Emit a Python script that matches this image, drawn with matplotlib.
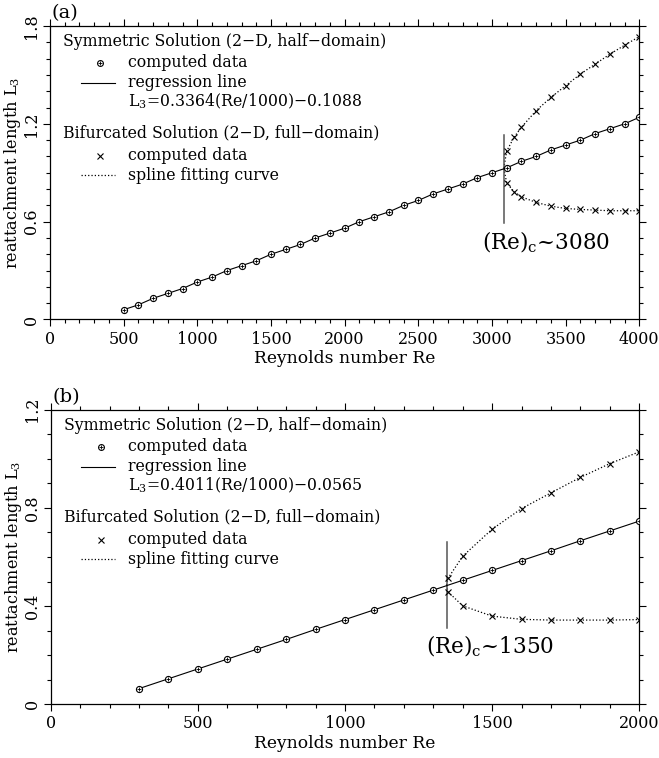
"""
    Reattachment length L3 against Reynolds number, two panels:
    symmetric solution (half-domain) and bifurcated solution (full-domain).
"""

import matplotlib
matplotlib.use('Agg')
import matplotlib.pyplot as plt
from matplotlib.ticker import MultipleLocator

plt.rcParams['font.family'] = ['DejaVu Serif']
plt.rcParams['mathtext.fontset'] = 'dejavuserif'

# ---- panel (a) data ----
sym_re_a = list(range(500, 4001, 100))
sym_l3_a = [0.06, 0.09, 0.13, 0.16, 0.19, 0.23, 0.26, 0.30, 0.33, 0.36,
            0.40, 0.43, 0.46, 0.50, 0.53, 0.56, 0.60, 0.63, 0.66, 0.70,
            0.73, 0.77, 0.80, 0.83, 0.87, 0.90, 0.93, 0.97, 1.00, 1.04,
            1.07, 1.10, 1.14, 1.17, 1.20, 1.24]
bif_re_a = [3100, 3150, 3200, 3300, 3400, 3500, 3600, 3700, 3800, 3900, 4000]
bif_up_a = [1.033, 1.118, 1.179, 1.281, 1.362, 1.434, 1.505, 1.566, 1.627, 1.682, 1.735]
bif_lo_a = [0.838, 0.783, 0.752, 0.718, 0.695, 0.681, 0.675, 0.671, 0.667, 0.667, 0.667]
re_c_a, l_c_a = 3080, 0.927
vline_a = (0.594, 1.129)
formula_a = r'L$_3$=0.3364(Re/1000)−0.1088'

# ---- panel (b) data ----
sym_re_b = list(range(300, 2001, 100))
sym_l3_b = [0.064, 0.104, 0.144, 0.184, 0.224, 0.264, 0.305, 0.345, 0.385,
            0.425, 0.465, 0.505, 0.545, 0.585, 0.625, 0.666, 0.706, 0.746]
bif_re_b = [1350, 1400, 1500, 1600, 1700, 1800, 1900, 2000]
bif_up_b = [0.513, 0.603, 0.713, 0.797, 0.861, 0.924, 0.980, 1.028]
bif_lo_b = [0.458, 0.401, 0.359, 0.346, 0.343, 0.343, 0.343, 0.345]
re_c_b, l_c_b = 1345, 0.485
vline_b = (0.309, 0.661)
formula_b = r'L$_3$=0.4011(Re/1000)−0.0565'


def draw_legend(ax, formula):
    tr = ax.transAxes
    fs = 11.3
    ax.text(0.022, 0.946, 'Symmetric Solution (2−D, half−domain)',
            transform=tr, fontsize=fs, va='center')
    ax.plot([0.085], [0.874], 'o', transform=tr, ms=4.2, mfc='none', mec='k', mew=0.8)
    ax.plot([0.085], [0.874], '+', transform=tr, ms=3.0, mec='k', mew=0.6)
    ax.text(0.132, 0.874, 'computed data', transform=tr, fontsize=fs, va='center')
    ax.plot([0.052, 0.110], [0.806, 0.806], '-', transform=tr, color='k', lw=0.8)
    ax.text(0.132, 0.806, 'regression line', transform=tr, fontsize=fs, va='center')
    ax.text(0.132, 0.744, formula, transform=tr, fontsize=fs, va='center')
    ax.text(0.022, 0.636, 'Bifurcated Solution (2−D, full−domain)',
            transform=tr, fontsize=fs, va='center')
    ax.plot([0.085], [0.558], 'x', transform=tr, ms=4.0, mec='k', mew=0.8)
    ax.text(0.132, 0.558, 'computed data', transform=tr, fontsize=fs, va='center')
    ax.plot([0.052, 0.110], [0.492, 0.492], ':', transform=tr, color='k', lw=0.9)
    ax.text(0.132, 0.492, 'spline fitting curve', transform=tr, fontsize=fs, va='center')


def draw_panel(ax, sym_re, sym_l3, bif_re, bif_up, bif_lo, re_c, l_c, vline,
               formula, label, note, note_xy, xmax, ymax, ymajor):
    # symmetric branch
    ax.plot(sym_re, sym_l3, '-', color='k', lw=0.8, zorder=3)
    ax.plot(sym_re, sym_l3, 'o', ms=4.4, mfc='white', mec='k', mew=0.8, zorder=4)
    ax.plot(sym_re, sym_l3, '+', ms=3.0, mec='k', mew=0.6, zorder=5)
    # bifurcated branches
    ax.plot([re_c] + bif_re, [l_c] + bif_up, ':', color='k', lw=0.9)
    ax.plot([re_c] + bif_re, [l_c] + bif_lo, ':', color='k', lw=0.9)
    ax.plot(bif_re, bif_up, 'x', ms=4.2, mec='k', mew=0.8, zorder=5)
    ax.plot(bif_re, bif_lo, 'x', ms=4.2, mec='k', mew=0.8, zorder=5)
    # critical Reynolds number
    ax.plot([re_c, re_c], vline, '-', color='#555555', lw=1.1, zorder=2)
    ax.text(note_xy[0], note_xy[1], note, fontsize=15.5, va='center')

    ax.set_xlim(0, xmax)
    ax.set_ylim(0, ymax)
    ax.xaxis.set_major_locator(MultipleLocator(500))
    ax.xaxis.set_minor_locator(MultipleLocator(100))
    ax.yaxis.set_major_locator(MultipleLocator(ymajor))
    ax.yaxis.set_minor_locator(MultipleLocator(0.1))
    ax.tick_params(which='both', direction='out', top=True, right=True,
                   labelsize=11.5, width=0.8)
    ax.tick_params(which='major', length=5, pad=3)
    ax.tick_params(which='minor', length=3)
    ax.tick_params(axis='y', labelrotation=90, pad=2)
    for t in ax.get_yticklabels():
        t.set_va('center')
    ax.yaxis.set_major_formatter(plt.FuncFormatter(lambda v, p: '0' if v == 0 else f'{v:g}'))
    for s in ax.spines.values():
        s.set_linewidth(0.9)

    ax.set_xlabel('Reynolds number Re', fontsize=12.3, labelpad=2)
    ax.set_ylabel('reattachment length L$_3$', fontsize=11.6, va='center')
    ax.yaxis.set_label_coords(-0.063, 0.5)
    ax.text(0.003, 1.012, label, transform=ax.transAxes, fontsize=14, va='bottom', ha='left')
    draw_legend(ax, formula)


fig = plt.figure(figsize=(6.59, 7.58), dpi=100)
ax_a = fig.add_axes([0.0759, 0.5785, 0.8942, 0.3872])
ax_b = fig.add_axes([0.0769, 0.0708, 0.8932, 0.3889])

draw_panel(ax_a, sym_re_a, sym_l3_a, bif_re_a, bif_up_a, bif_lo_a, re_c_a, l_c_a,
           vline_a, formula_a, '(a)', r'(Re)$_\mathrm{c}$~3080', (2930, 0.47),
           4000, 1.8, 0.6)
draw_panel(ax_b, sym_re_b, sym_l3_b, bif_re_b, bif_up_b, bif_lo_b, re_c_b, l_c_b,
           vline_b, formula_b, '(b)', r'(Re)$_\mathrm{c}$~1350', (1275, 0.235),
           2000, 1.2, 0.4)

fig.savefig('out.png', dpi=100)
